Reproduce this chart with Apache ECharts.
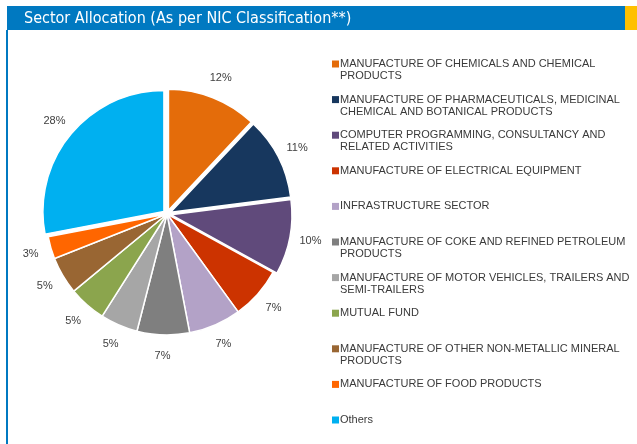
<!DOCTYPE html>
<html>
<head>
<meta charset="utf-8">
<script src="https://cdn.jsdelivr.net/npm/echarts@6/dist/echarts.min.js"></script>
<style>
  html, body { margin: 0; padding: 0; background: #fff; }
  #chart { width: 637px; height: 444px; }
</style>
</head>
<body>
<div id="chart"></div>
<script>
// sectors, clockwise from 12 o'clock
var categories = [
  'MANUFACTURE OF CHEMICALS AND CHEMICAL PRODUCTS',
  'MANUFACTURE OF PHARMACEUTICALS, MEDICINAL CHEMICAL AND BOTANICAL PRODUCTS',
  'COMPUTER PROGRAMMING, CONSULTANCY AND RELATED ACTIVITIES',
  'MANUFACTURE OF ELECTRICAL EQUIPMENT',
  'INFRASTRUCTURE SECTOR',
  'MANUFACTURE OF COKE AND REFINED PETROLEUM PRODUCTS',
  'MANUFACTURE OF MOTOR VEHICLES, TRAILERS AND SEMI-TRAILERS',
  'MUTUAL FUND',
  'MANUFACTURE OF OTHER NON-METALLIC MINERAL PRODUCTS',
  'MANUFACTURE OF FOOD PRODUCTS',
  'Others'
];
var shares = [12, 11, 10, 7, 7, 7, 5, 5, 5, 3, 28];
var colors = ['#E46C0A', '#17375E', '#604A7B', '#CC3300', '#B3A2C7', '#7F7F7F',
              '#A6A6A6', '#8BA54D', '#996633', '#FF6600', '#00B0F0'];
// slices pulled out of the pie
var exploded = [true, true, true, false, false, false, false, false, false, false, true];

var legendFont = '11px "Liberation Sans", Arial, sans-serif';
var ctx = document.createElement('canvas').getContext('2d');
ctx.font = legendFont;

// wrap legend names like the original, marker sits on the first line
function wrapName(name) {
  var words = name.split(' ');
  var lines = [], cur = '';
  words.forEach(function (w) {
    var t = cur ? cur + ' ' + w : w;
    if (cur && ctx.measureText(t).width > 292) {
      lines.push(cur);
      cur = w;
    } else {
      cur = t;
    }
  });
  lines.push(cur);
  if (lines.length === 1) lines.push('');
  return '\n' + lines.join('\n');
}

function sliceData() {
  return categories.map(function (name, i) {
    return { name: name, value: shares[i], selected: exploded[i] };
  });
}

var center = [167, 214];

var chart = echarts.init(document.getElementById('chart'));
chart.setOption({
  animation: false,
  color: colors,
  title: {
    text: 'Sector Allocation (As per NIC Classification**)',
    left: 24,
    top: 10,
    padding: 0,
    textStyle: {
      color: '#fff',
      fontSize: 16,
      fontWeight: 'normal',
      lineHeight: 17,
      fontFamily: '"DejaVu Sans Condensed", "DejaVu Sans", sans-serif'
    }
  },
  graphic: [
    { type: 'rect', z: -1, shape: { x: 7, y: 6, width: 618, height: 24 }, style: { fill: '#0079C1' } },
    { type: 'rect', z: -1, shape: { x: 625, y: 6, width: 12, height: 24 }, style: { fill: '#FFC000' } },
    { type: 'rect', z: -1, shape: { x: 6, y: 30, width: 2, height: 414 }, style: { fill: '#0079C1' } }
  ],
  legend: {
    orient: 'vertical',
    left: 332,
    top: 46,
    padding: 0,
    itemGap: -0.4,
    itemWidth: 7,
    itemHeight: 7,
    icon: 'rect',
    selectedMode: false,
    data: categories,
    formatter: wrapName,
    itemStyle: { borderWidth: 0 },
    textStyle: {
      fontFamily: '"Liberation Sans", Arial, sans-serif',
      fontSize: 11,
      lineHeight: 12,
      color: '#3a3a3a',
      padding: [0, 0, 0, -4]
    }
  },
  series: [{
    type: 'pie',
    center: center,
    radius: 121,
    startAngle: 90,
    clockwise: true,
    selectedMode: 'multiple',
    selectedOffset: 4,
    itemStyle: { borderColor: '#fff', borderWidth: 1.5 },
    label: { show: false },
    labelLine: { show: false },
    emphasis: { disabled: true },
    select: { itemStyle: { borderColor: '#fff', borderWidth: 1.5 } },
    data: sliceData()
  }, {
    // invisible ring that carries the percentage labels, centred like the original
    type: 'pie',
    center: center,
    radius: [127, 151],
    startAngle: 90,
    clockwise: true,
    silent: true,
    selectedMode: 'multiple',
    selectedOffset: 4,
    itemStyle: { color: 'rgba(0,0,0,0)', borderWidth: 0 },
    select: { itemStyle: { color: 'rgba(0,0,0,0)', borderWidth: 0 } },
    emphasis: { disabled: true },
    label: {
      show: true,
      position: 'inside',
      formatter: '{c}%',
      fontFamily: '"Liberation Sans", Arial, sans-serif',
      fontSize: 11,
      color: '#404040'
    },
    labelLine: { show: false },
    data: sliceData()
  }]
});
</script>
</body>
</html>
